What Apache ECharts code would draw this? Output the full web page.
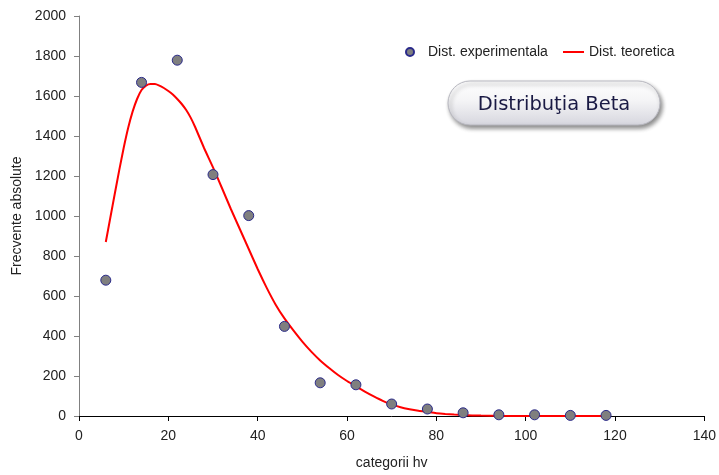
<!DOCTYPE html>
<html>
<head>
<meta charset="utf-8">
<script src="https://cdn.jsdelivr.net/npm/echarts@6/dist/echarts.min.js"></script>
<style>html,body{margin:0;padding:0;background:#fff}#c{width:719px;height:475px}</style>
</head>
<body>
<div id="c"></div>
<script>
// Experimental distribution (scatter)
const expX = [6, 14, 22, 30, 38, 46, 54, 62, 70, 78, 86, 94, 102, 110, 118];
const expY = [679, 1668, 1779, 1207, 1002, 448, 166, 156, 60, 35, 16, 6, 6, 3, 3];
// Theoretical distribution (line)
const teoX = [6, 7, 8, 9, 10, 11, 12, 13, 14, 15, 16, 17, 18, 19, 20, 21, 22, 23, 24, 25, 26, 28, 30, 32, 34, 36, 38, 40, 42, 44, 46, 48, 50, 52, 54, 56, 58, 60, 62, 64, 66, 68, 70, 72, 74, 76, 78, 80, 82, 84, 86, 88, 90, 94, 100, 110, 118];
const teoY = [870, 990, 1110, 1228, 1340, 1440, 1522, 1585, 1630, 1652, 1660, 1660, 1652, 1640, 1625, 1607, 1585, 1560, 1530, 1492, 1445, 1340, 1243, 1140, 1035, 935, 835, 735, 642, 558, 488, 428, 372, 322, 278, 240, 205, 175, 148, 122, 98, 76, 58, 44, 34, 26, 20, 14, 10, 7, 5, 3, 2, 1, 0, 0, 0];
const xTicks = {min: 0, max: 140, interval: 20};
const yTicks = {min: 0, max: 2000, interval: 200};
const seriesNames = ['Dist. experimentala', 'Dist. teoretica'];
const title = 'Distribuţia Beta';
const xName = 'categorii hv';
const yName = 'Frecvente absolute';

const chart = echarts.init(document.getElementById('c'));
const font = 'Arial, "Liberation Sans", sans-serif';
chart.setOption({
  animation: false,
  backgroundColor: '#fff',
  grid: {left: 79, right: 14, top: 16, bottom: 58},
  legend: [{
    data: [{name: seriesNames[0], icon: 'circle'}],
    left: 405, top: 45, padding: 0,
    itemWidth: 14, itemHeight: 8,
    textStyle: {fontFamily: font, fontSize: 14, color: '#222', padding: [0, 0, 0, 6]}
  }, {
    data: [{name: seriesNames[1], icon: 'rect'}],
    left: 563, top: 45, padding: 0,
    itemWidth: 21, itemHeight: 2,
    itemStyle: {color: '#ff0000'},
    textStyle: {fontFamily: font, fontSize: 14, color: '#222'}
  }],
  xAxis: {
    type: 'value', min: xTicks.min, max: xTicks.max, interval: xTicks.interval,
    name: xName, nameLocation: 'middle', nameGap: 40,
    nameTextStyle: {fontFamily: font, fontSize: 14, color: '#222'},
    axisLine: {show: true, lineStyle: {color: '#000', width: 1}},
    axisTick: {show: true, length: 5, lineStyle: {color: '#000'}},
    axisLabel: {fontFamily: font, fontSize: 14, color: '#222', margin: 13},
    splitLine: {show: false}
  },
  yAxis: {
    type: 'value', min: yTicks.min, max: yTicks.max, interval: yTicks.interval,
    name: yName, nameLocation: 'middle', nameGap: 51,
    nameTextStyle: {fontFamily: font, fontSize: 14, color: '#222'},
    axisLine: {show: true, lineStyle: {color: '#808080', width: 1}},
    axisTick: {show: true, length: 5, lineStyle: {color: '#808080'}},
    axisLabel: {fontFamily: font, fontSize: 14, color: '#222', margin: 13, formatter: v => String(v)},
    splitLine: {show: false}
  },
  series: [{
    name: seriesNames[1],
    type: 'line',
    data: teoX.map((x, i) => [x, teoY[i]]),
    symbol: 'none',
    smooth: 0.2,
    lineStyle: {color: '#ff0000', width: 2},
    itemStyle: {color: '#ff0000'},
    z: 2
  }, {
    name: seriesNames[0],
    type: 'scatter',
    data: expX.map((x, i) => [x, expY[i]]),
    symbol: 'circle',
    symbolSize: 10,
    itemStyle: {color: '#7f7f7f', borderColor: '#2a2a8a', borderWidth: 1, opacity: 1},
    z: 3
  }],
  graphic: [{
    type: 'rect',
    shape: {x: 448, y: 81, width: 212, height: 44, r: 22},
    style: {
      fill: new echarts.graphic.LinearGradient(0, 0, 0, 1, [
        {offset: 0, color: '#ffffff'},
        {offset: 0.45, color: '#f4f4f6'},
        {offset: 1, color: '#d6d6de'}
      ]),
      stroke: '#b8b8c0', lineWidth: 1,
      shadowBlur: 4, shadowOffsetX: 2, shadowOffsetY: 3, shadowColor: 'rgba(0,0,0,0.45)'
    },
    z: 10
  }, {
    type: 'text',
    x: 554, y: 105,
    style: {
      text: title, fontFamily: '"DejaVu Sans", Verdana, sans-serif', fontSize: 19.5,
      fill: '#1a1a44', align: 'center', verticalAlign: 'middle'
    },
    z: 11
  }]
});
</script>
</body>
</html>
